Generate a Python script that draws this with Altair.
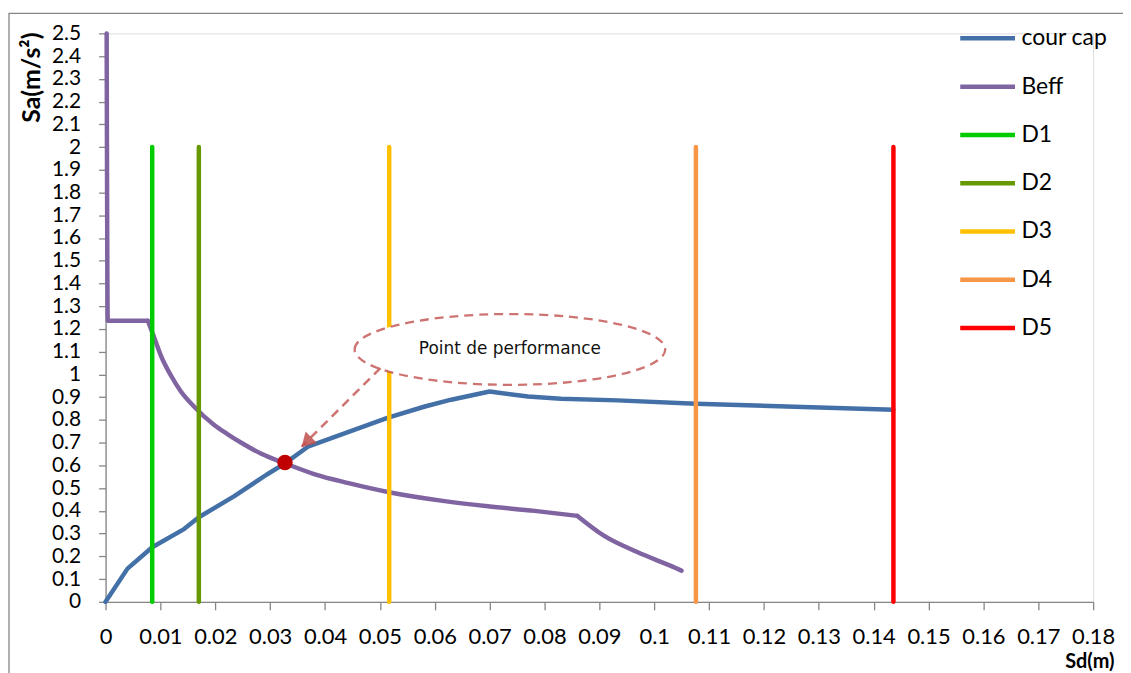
import altair as alt
import pandas as pd

# ---------------- data ----------------
series_names = ["cour cap", "Beff", "D1", "D2", "D3", "D4", "D5"]
series_colors = ["#4470a8", "#8064a2", "#00cc00", "#669900", "#ffc000", "#f79646", "#ff0000"]

cap_sd = [0, 0.004, 0.0085, 0.0143, 0.017, 0.0234, 0.0294, 0.0327, 0.0370,
          0.0515, 0.0582, 0.0630, 0.0700, 0.0770, 0.0830, 0.0933, 0.1076, 0.1436]
cap_sa = [0, 0.146, 0.240, 0.320, 0.372, 0.464, 0.560, 0.609, 0.684,
          0.810, 0.859, 0.889, 0.925, 0.903, 0.893, 0.886, 0.871, 0.845]

# Beff: vertical drop + plateau, then two smooth branches
beff_seg = ["a", "a", "a",
            "b", "b", "b", "b", "b", "b", "b", "b", "b", "b", "b", "b", "b", "b", "b", "b", "b", "b",
            "c", "c", "c", "c", "c"]
beff_sd = [0.0002, 0.0004, 0.0077,
           0.0077, 0.0089, 0.0101, 0.0120, 0.0137, 0.0162, 0.0198, 0.0222, 0.0252,
           0.0283, 0.0327, 0.0380, 0.0443, 0.0519, 0.0618, 0.0697, 0.0782, 0.0860,
           0.0860, 0.0909, 0.0969, 0.1040, 0.1050]
beff_sa = [2.5, 1.236, 1.236,
           1.236, 1.160, 1.082, 0.992, 0.926, 0.857, 0.778, 0.738, 0.693,
           0.652, 0.609, 0.562, 0.522, 0.481, 0.443, 0.420, 0.400, 0.378,
           0.378, 0.290, 0.219, 0.148, 0.137]

damage_names = ["D1", "D2", "D3", "D4", "D5"]
damage_sd = [0.0085, 0.0170, 0.0517, 0.1076, 0.1436]
damage_sa = [0, 2]

perf_sd = [0.0327]
perf_sa = [0.613]
perf_label = ["Point de performance"]
label_sd = [0.0737]
label_sa = [1.11]
arrow_sd = [0.0501, 0.03575]
arrow_sa = [1.028, 0.683]
head_sd = [0.0366]
head_sa = [0.702]

x_ticks = [0, 0.01, 0.02, 0.03, 0.04, 0.05, 0.06, 0.07, 0.08, 0.09, 0.1,
           0.11, 0.12, 0.13, 0.14, 0.15, 0.16, 0.17, 0.18]
y_ticks = [0, 0.1, 0.2, 0.3, 0.4, 0.5, 0.6, 0.7, 0.8, 0.9, 1, 1.1, 1.2, 1.3,
           1.4, 1.5, 1.6, 1.7, 1.8, 1.9, 2, 2.1, 2.2, 2.3, 2.4, 2.5]

# ---------------- tables ----------------
rows = []
for i, (x, y) in enumerate(zip(cap_sd, cap_sa)):
    rows.append({"series": "cour cap", "seg": "cap", "sd": x, "sa": y, "idx": i})
for name, x in zip(damage_names, damage_sd):
    for i, y in enumerate(damage_sa):
        rows.append({"series": name, "seg": name, "sd": x, "sa": y, "idx": i})
lines_df = pd.DataFrame(rows)

beff_df = pd.DataFrame({
    "series": ["Beff"] * len(beff_sd), "seg": beff_seg,
    "sd": beff_sd, "sa": beff_sa, "idx": list(range(len(beff_sd))),
})

perf_df = pd.DataFrame({"sd": perf_sd, "sa": perf_sa})
label_df = pd.DataFrame({"sd": label_sd, "sa": label_sa, "txt": perf_label})
arrow_df = pd.DataFrame({"sd": arrow_sd, "sa": arrow_sa, "idx": [0, 1]})
head_df = pd.DataFrame({"sd": head_sd, "sa": head_sa})
frame_df = pd.DataFrame({"k": [0]})

FONT = "Lato, 'Noto Sans', sans-serif"
GRAY = "#868686"
ANN = "#c0504d"

xscale = alt.Scale(domain=[0, 0.18], nice=False, zero=False)
yscale = alt.Scale(domain=[0, 2.5], nice=False)

x_enc = alt.X(
    "sd:Q", scale=xscale,
    axis=alt.Axis(
        values=x_ticks, format="~g", grid=False, tickSize=8, labelPadding=17,
        domainColor=GRAY, tickColor=GRAY, domainWidth=1.3, tickWidth=1.3,
        labelFont=FONT, labelFontSize=22, labelColor="#000000", labelFlush=False,
        labelOverlap=False,
        title="Sd(m)", titleFont=FONT, titleFontSize=20, titleFontWeight="bold",
        titleColor="#000000", titleX=1013, titleY=60, titleAlign="right",
        titleBaseline="middle",
    ),
)
y_enc = alt.Y(
    "sa:Q", scale=yscale,
    axis=alt.Axis(
        values=y_ticks, format="~g", grid=False, tickSize=7, labelPadding=18,
        domainColor=GRAY, tickColor=GRAY, domainWidth=1.3, tickWidth=1.3,
        labelFont=FONT, labelFontSize=21, labelColor="#000000", labelFlush=False,
        labelOverlap=False,
        title="Sa(m/s²)", titleFont=FONT, titleFontSize=25, titleFontWeight="bold",
        titleColor="#000000", titleX=-74, titleY=44, titleAngle=270,
        titleAlign="center", titleBaseline="middle",
    ),
)

color_enc = alt.Color(
    "series:N",
    scale=alt.Scale(domain=series_names, range=series_colors),
    sort=series_names,
    legend=alt.Legend(
        title=None, orient="none", legendX=856, legendY=-25,
        symbolType="stroke", symbolSize=3025, symbolStrokeWidth=4.5,
        labelFont=FONT, labelFontSize=23, labelColor="#000000",
        labelOffset=4, rowPadding=6.5, padding=0,
    ),
)

frame = alt.Chart(frame_df).mark_rect(
    fill="#ffffff", fillOpacity=0, stroke=GRAY, strokeWidth=1.3
).encode(
    x=alt.value(-97), x2=alt.value(1060), y=alt.value(-20), y2=alt.value(680)
)

lines = alt.Chart(lines_df).mark_line(
    strokeWidth=4.5, strokeCap="round", strokeJoin="round"
).encode(
    x=x_enc, y=y_enc, color=color_enc, detail="seg:N", order="idx:Q",
)

beff = alt.Chart(beff_df).mark_line(
    strokeWidth=4.5, strokeCap="round", strokeJoin="round", interpolate="monotone"
).encode(
    x=x_enc, y=y_enc, color=color_enc, detail="seg:N", order="idx:Q",
)

perf = alt.Chart(perf_df).mark_point(
    shape="circle", filled=True, size=240, color="#c00000", opacity=1
).encode(x=x_enc, y=y_enc)

ellipse = alt.Chart(label_df).mark_point(
    shape="M -1 0 A 1 0.228 0 1 1 1 0 A 1 0.228 0 1 1 -1 0",
    size=97344, filled=False, fill="#ffffff", fillOpacity=1,
    stroke=ANN, strokeOpacity=0.8, strokeWidth=2.3, strokeDash=[9, 6],
).encode(x=x_enc, y=y_enc)

label = alt.Chart(label_df).mark_text(
    font="'DejaVu Sans', sans-serif",
    fontSize=17, color="#111111", align="center", baseline="middle",
).encode(x=x_enc, y=y_enc, text="txt:N")

arrow = alt.Chart(arrow_df).mark_line(
    color=ANN, opacity=0.8, strokeWidth=2.5, strokeDash=[9, 6]
).encode(x=x_enc, y=y_enc, order="idx:Q")

head = alt.Chart(head_df).mark_point(
    shape="triangle-up", filled=True, size=260, color=ANN, opacity=0.85, angle=225
).encode(x=x_enc, y=y_enc)

chart = alt.layer(frame, beff, lines, perf, ellipse, label, arrow, head).properties(
    width=992, height=571,
    autosize=alt.AutoSizeParams(type="none"),
    padding={"left": 98, "top": 24, "right": 30, "bottom": 72},
).configure_view(strokeWidth=0).configure(background="#ffffff")

chart.save("out.html", embed_options={"renderer": "svg", "actions": False})
